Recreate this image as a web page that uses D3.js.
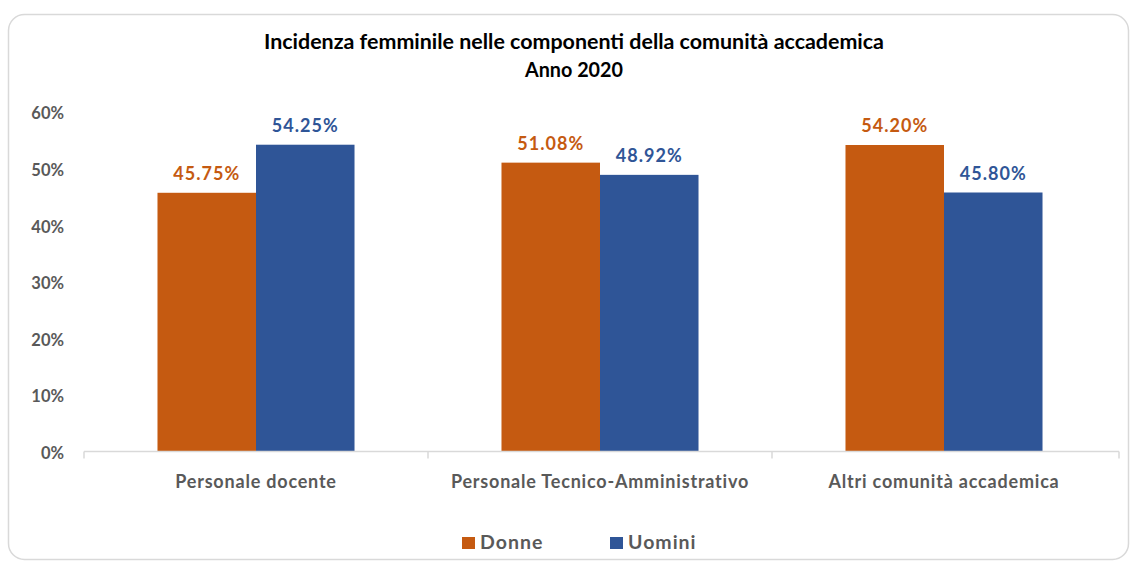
<!DOCTYPE html>
<html><head><meta charset="utf-8">
<script src="https://cdn.jsdelivr.net/npm/d3@7"></script>
<style>body{margin:0;background:#fff}svg{display:block}</style>
</head><body>
<svg id="c" width="1131" height="563"></svg>
<script>
const categories = ["Personale docente", "Personale Tecnico-Amministrativo", "Altri comunità accademica"];
const seriesNames = ["Donne", "Uomini"];
const donne = [45.75, 51.08, 54.20];
const uomini = [54.25, 48.92, 45.80];
const yTicks = [0, 10, 20, 30, 40, 50, 60];
const titleLines = ["Incidenza femminile nelle componenti della comunità accademica", "Anno 2020"];
const colors = ["#C55A11", "#2F5597"];

(function () {
const svg = d3.select("#c");
const font = "Lato, 'Open Sans', 'Liberation Sans', sans-serif";
svg.append("rect").attr("x", 8.5).attr("y", 14.5).attr("width", 1120).attr("height", 545)
  .attr("rx", 16).attr("fill", "#fff").attr("stroke", "#d9d9d9").attr("stroke-width", 1.5);

const pl = 84, pr = 1116, pt = 112.2, pb = 451.5;
const x0 = d3.scaleBand().domain(categories).range([pl, pr]).paddingInner(0).paddingOuter(0);
const x1 = d3.scaleBand().domain(seriesNames).range([0, x0.bandwidth()]).paddingInner(0).paddingOuter(0.746);
const y = d3.scaleLinear().domain([0, 60]).range([pb, pt]);

svg.append("g").selectAll("text").data(titleLines).join("text")
  .attr("x", 574).attr("y", (d, i) => 49 + i * 28).attr("text-anchor", "middle")
  .attr("font-family", font).attr("font-weight", "bold").attr("font-size", 20.5).attr("fill", "#000")
  .attr("textLength", (d, i) => i === 0 ? 620 : 98).attr("lengthAdjust", "spacingAndGlyphs")
  .text(d => d);

// y axis
const yAxis = d3.axisLeft(y).tickValues(yTicks).tickFormat(d => d + "%").tickSize(0).tickPadding(0);
const gy = svg.append("g").attr("transform", `translate(64,1.5)`).call(yAxis);
gy.select(".domain").remove();
gy.selectAll("text").attr("font-family", font).attr("font-weight", "bold").attr("font-size", 16.5).attr("fill", "#595959");

// bars
const data = categories.map((c, i) => ({ c, vals: [donne[i], uomini[i]] }));
const g = svg.append("g").selectAll("g").data(data).join("g").attr("transform", d => `translate(${x0(d.c)},0)`);
g.selectAll("rect").data(d => d.vals.map((v, j) => ({ v, s: seriesNames[j], j }))).join("rect")
  .attr("x", d => x1(d.s)).attr("width", x1.bandwidth())
  .attr("y", d => y(d.v)).attr("height", d => pb - y(d.v)).attr("fill", d => colors[d.j]);
g.selectAll("text.lbl").data(d => d.vals.map((v, j) => ({ v, s: seriesNames[j], j }))).join("text")
  .attr("class", "lbl").attr("x", d => x1(d.s) + x1.bandwidth() / 2).attr("y", d => y(d.v) - 13)
  .attr("text-anchor", "middle").attr("font-family", font).attr("font-weight", "bold").attr("font-size", 18)
  .attr("letter-spacing", 1).attr("fill", d => colors[d.j]).text(d => d.v.toFixed(2) + "%");

// x axis
const xAxis = d3.axisBottom(x0).tickSize(0).tickPadding(0);
const gx = svg.append("g").attr("transform", `translate(0,${pb})`).call(xAxis);
gx.select(".domain").attr("d", `M${pl},0H${pr + 3}`).attr("stroke", "#d9d9d9").attr("stroke-width", 1.5);
gx.selectAll("text").attr("dy", null).attr("y", 36.5).attr("font-family", font).attr("font-weight", "bold")
  .attr("font-size", 18).attr("letter-spacing", 0.8).attr("fill", "#595959");
const bounds = categories.map(c => x0(c)).concat([x0(categories[categories.length - 1]) + x0.bandwidth() + 3]);
gx.selectAll("line.sep").data(bounds).join("line").attr("class", "sep")
  .attr("x1", d => d).attr("x2", d => d).attr("y1", 0).attr("y2", 7).attr("stroke", "#d9d9d9").attr("stroke-width", 1.5);

// legend
const legX = [462, 610];
const lg = svg.append("g").selectAll("g").data(seriesNames).join("g").attr("transform", (d, i) => `translate(${legX[i]},537)`);
lg.append("rect").attr("width", 13).attr("height", 12).attr("fill", (d, i) => colors[i]);
lg.append("text").attr("x", 18).attr("y", 12).attr("font-family", font).attr("font-weight", "bold")
  .attr("font-size", 19.5).attr("letter-spacing", 1).attr("fill", "#595959").text(d => d);
})();
</script>
</body></html>
